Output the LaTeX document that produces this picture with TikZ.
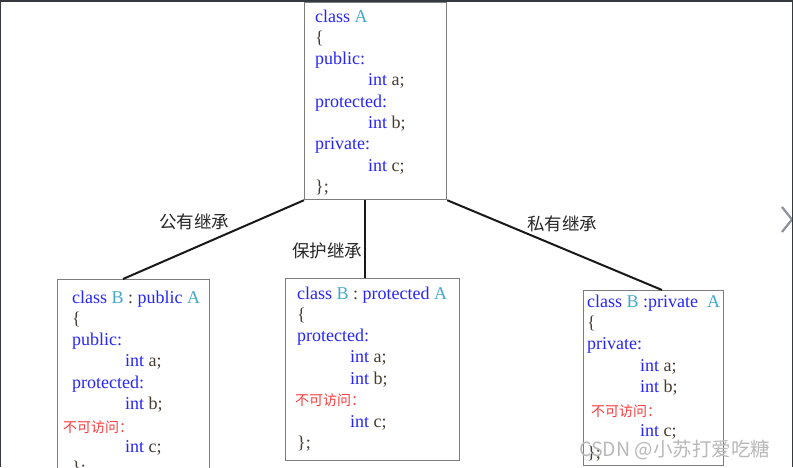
\documentclass[tikz,border=0pt]{standalone}
\usepackage{fontspec}
\setmainfont{Liberation Serif}
\newfontfamily\cjk{Noto Sans CJK SC}
\definecolor{kw}{RGB}{38,38,250}
\definecolor{tl}{RGB}{70,168,200}
\definecolor{dk}{RGB}{70,60,50}
\definecolor{rd}{RGB}{250,60,60}
\definecolor{bx}{RGB}{125,125,125}
\definecolor{frame}{RGB}{53,57,61}
\definecolor{wm}{RGB}{185,185,185}
\definecolor{chev}{RGB}{140,145,155}
\newcommand{\K}[1]{\textcolor{kw}{#1}}
\newcommand{\T}[1]{\textcolor{tl}{#1}}
\begin{document}
\begin{tikzpicture}[x=1pt,y=-1pt,
  classbox/.style={draw=bx,line width=1.2pt,fill=white,rectangle,inner sep=0pt,anchor=north west},
  code/.style={anchor=base west,inner sep=0pt,text=dk,font=\fontsize{18}{21}\selectfont},
  redtxt/.style={anchor=base west,inner sep=0pt,text=rd,font=\cjk\fontsize{14}{16}\selectfont},
  lbl/.style={anchor=center,inner sep=0pt,text=black!85,font=\cjk\fontsize{17.5}{20}\selectfont},
  conn/.style={line width=2pt,black!90}]
\useasboundingbox (0,0) rectangle (793,467);
\fill[white] (0,0) rectangle (793,467);
\begin{scope}
\clip (0,0) rectangle (793,467);
% boxes
\node[classbox,minimum width=142pt,minimum height=197pt] (A) at (304,2) {};
\node[classbox,minimum width=152pt,minimum height=200pt] (L) at (57,279) {};
\node[classbox,minimum width=174pt,minimum height=182pt] (M) at (285,278) {};
\node[classbox,minimum width=140pt,minimum height=175pt] (R) at (583,290) {};
% connectors
\draw[conn] (A.south west) -- ([xshift=66pt]L.north west);
\draw[conn] ([xshift=61pt]A.south west) -- ([xshift=80pt]M.north west);
\draw[conn] (A.south east) -- ([xshift=79pt]R.north west);
% labels
\node[lbl] (l1) at (194,222) {公有继承};
\node[lbl] (l2) at (327,251) {保护继承};
\node[lbl] (l3) at (562,224) {私有继承};
% class A
\node[code] (a1) at (315,22) {\K{class} \T{A}};
\node[code] (a2) at (315,43.3) {\{};
\node[code] (a3) at (315,64.6) {\K{public:}};
\node[code] (a4) at (368,85.9) {\K{int} a;};
\node[code] (a5) at (315,107.2) {\K{protected:}};
\node[code] (a6) at (368,128.5) {\K{int} b;};
\node[code] (a7) at (315,149.8) {\K{private:}};
\node[code] (a8) at (368,171.1) {\K{int} c;};
\node[code] (a9) at (315,192.4) {\};};
% left box
\node[code] (b1) at (72,303) {\K{class} \T{B} : \K{public} \T{A}};
\node[code] (b2) at (72,324.3) {\{};
\node[code] (b3) at (72,345.6) {\K{public:}};
\node[code] (b4) at (125,366.9) {\K{int} a;};
\node[code] (b5) at (72,388.2) {\K{protected:}};
\node[code] (b6) at (125,409.5) {\K{int} b;};
\node[redtxt] (b7) at (63,432) {不可访问：};
\node[code] (b8) at (125,452.5) {\K{int} c;};
\node[code] (b9) at (72,473.8) {\};};
% middle box
\node[code] (c1) at (297,299) {\K{class} \T{B} : \K{protected} \T{A}};
\node[code] (c2) at (297,320.3) {\{};
\node[code] (c3) at (297,341.6) {\K{protected:}};
\node[code] (c4) at (350,362.9) {\K{int} a;};
\node[code] (c5) at (350,384.2) {\K{int} b;};
\node[redtxt] (c6) at (295,405) {不可访问：};
\node[code] (c7) at (350,427) {\K{int} c;};
\node[code] (c8) at (297,448.3) {\};};
% right box
\node[code] (d1) at (587,307) {\K{class} \T{B} \K{:private} \ \T{A}};
\node[code] (d2) at (587,328.3) {\{};
\node[code] (d3) at (587,349.6) {\K{private:}};
\node[code] (d4) at (640,371.5) {\K{int} a;};
\node[code] (d5) at (640,392.8) {\K{int} b;};
\node[redtxt] (d6) at (591,416.5) {不可访问：};
\node[code] (d7) at (640,436.5) {\K{int} c;};
\node[code] (d8) at (587,458) {\};};
% watermark
\node[anchor=base west,inner sep=0pt,text=wm,font=\cjk\fontsize{19.5}{22}\selectfont] (wmk) at (579,456) {CSDN @小苏打爱吃糖};
% chevron
\coordinate (ch1) at (782,207);
\coordinate (ch2) at (792,219.5);
\coordinate (ch3) at (782,232);
\draw[chev,line width=2.2pt] (ch1) -- (ch2) -- (ch3);
% frame
\fill[frame] (0,0) rectangle (793,2.2);
\fill[frame] (0,0) rectangle (1.3,467);
\fill[frame] (791.5,0) rectangle (793,467);
\end{scope}
\end{tikzpicture}
\end{document}
